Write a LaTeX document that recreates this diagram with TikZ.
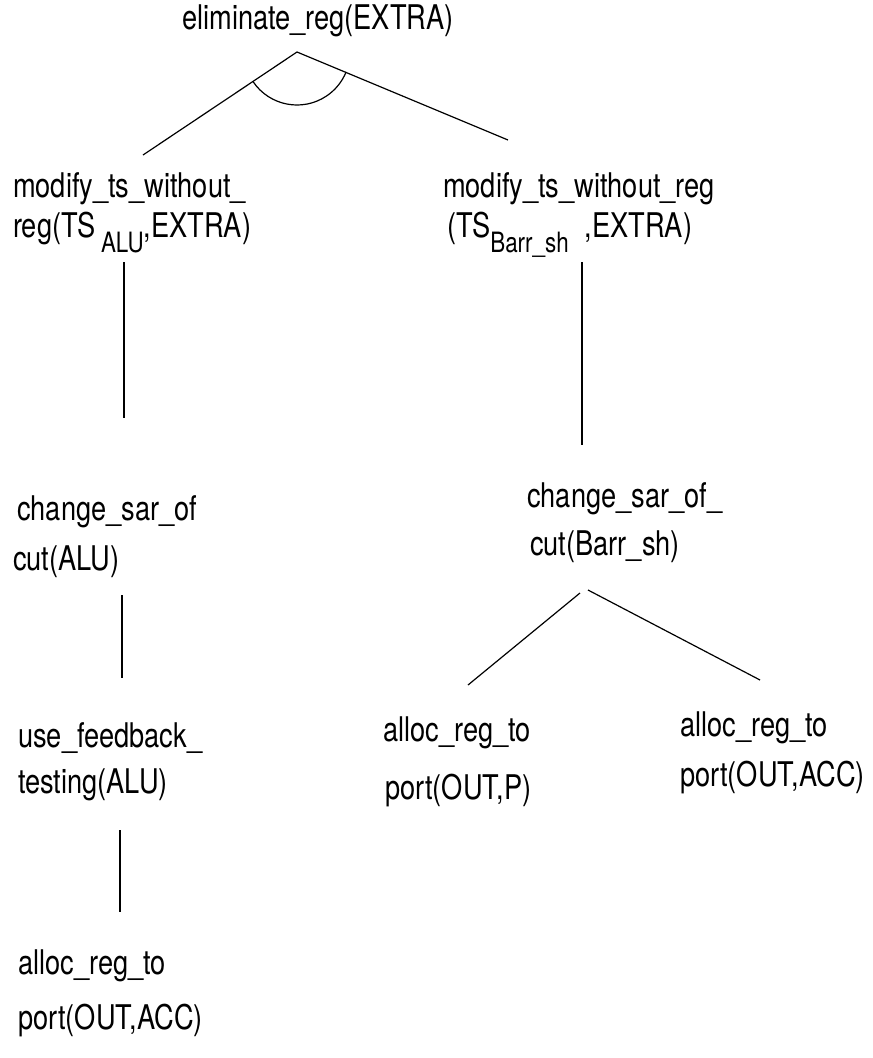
\documentclass[tikz,border=0pt]{standalone}
\usepackage{fontspec}
\setmainfont[FakeStretch=0.8]{TeX Gyre Heros}
\usepackage{tikz}

\begin{document}
\begin{tikzpicture}[x=1pt, y=-1pt,
    goal/.style={anchor=north west, inner sep=0pt, align=left, font=\fontsize{34}{40}\selectfont},
    sub/.style={font=\fontsize{28}{28}\selectfont},
    link/.style={line width=1.2pt}]
    % Frame
    \useasboundingbox (0,0) rectangle (873,1058);

    % Root goal
    \node[goal] (root) at (182,4.5) {eliminate\_reg(EXTRA)};
    \coordinate (fork) at (297,52);

    % First level
    \node[goal] (tsalu) at (13,172.5) {modify\_ts\_without\_\\reg(TS\,\raisebox{-15pt}{\fontsize{28}{28}\selectfont ALU},EXTRA)};
    \node[goal] (tsbar) at (443,172.5) {modify\_ts\_without\_reg\\\hspace*{4pt}(TS\raisebox{-15pt}{\fontsize{28}{28}\selectfont Barr\_sh}\hspace{16pt},EXTRA)};
    \coordinate (tsaluIn) at (143,155);
    \coordinate (tsbarIn) at (508,140);
    \draw[link] (tsaluIn) -- (fork) -- (tsbarIn);
    % AND arc
    \draw[link] ([shift={(-146:53pt)}]fork) arc[start angle=-146, end angle=-22, radius=53pt];

    % Second level
    \node[goal] (chgalu) at (13,495) {\hspace*{4pt}change\_sar\_of\\[10pt]cut(ALU)};
    \node[goal] (chgbar) at (527,482) {change\_sar\_of\_\\[8pt]\hspace*{3pt}cut(Barr\_sh)};
    \coordinate (tsaluOut) at (124,262);
    \coordinate (chgaluIn) at (124,418);
    \coordinate (tsbarOut) at (582,262);
    \coordinate (chgbarIn) at (582,445);
    \draw[link] (tsaluOut) -- (chgaluIn);
    \draw[link] (tsbarOut) -- (chgbarIn);

    % Third level
    \node[goal] (feedback) at (18,722) {use\_feedback\_\\[6pt]testing(ALU)};
    \node[goal] (allocp) at (383,717) {alloc\_reg\_to\\[18pt]\hspace*{2pt}port(OUT,P)};
    \node[goal] (allocacc) at (680,712) {alloc\_reg\_to\\[10pt]port(OUT,ACC)};
    \coordinate (chgaluOut) at (122,595);
    \coordinate (feedbackIn) at (122,678);
    \draw[link] (chgaluOut) -- (feedbackIn);
    \coordinate (splitL) at (580,593);
    \coordinate (splitR) at (588,590);
    \coordinate (allocpIn) at (468,685);
    \coordinate (allocaccIn) at (760,680);
    \draw[link] (splitL) -- (allocpIn);
    \draw[link] (splitR) -- (allocaccIn);

    % Fourth level
    \node[goal] (allocacc2) at (18,950) {alloc\_reg\_to\\[15pt]port(OUT,ACC)};
    \coordinate (feedbackOut) at (120,830);
    \coordinate (allocacc2In) at (120,912);
    \draw[link] (feedbackOut) -- (allocacc2In);
\end{tikzpicture}
\end{document}
